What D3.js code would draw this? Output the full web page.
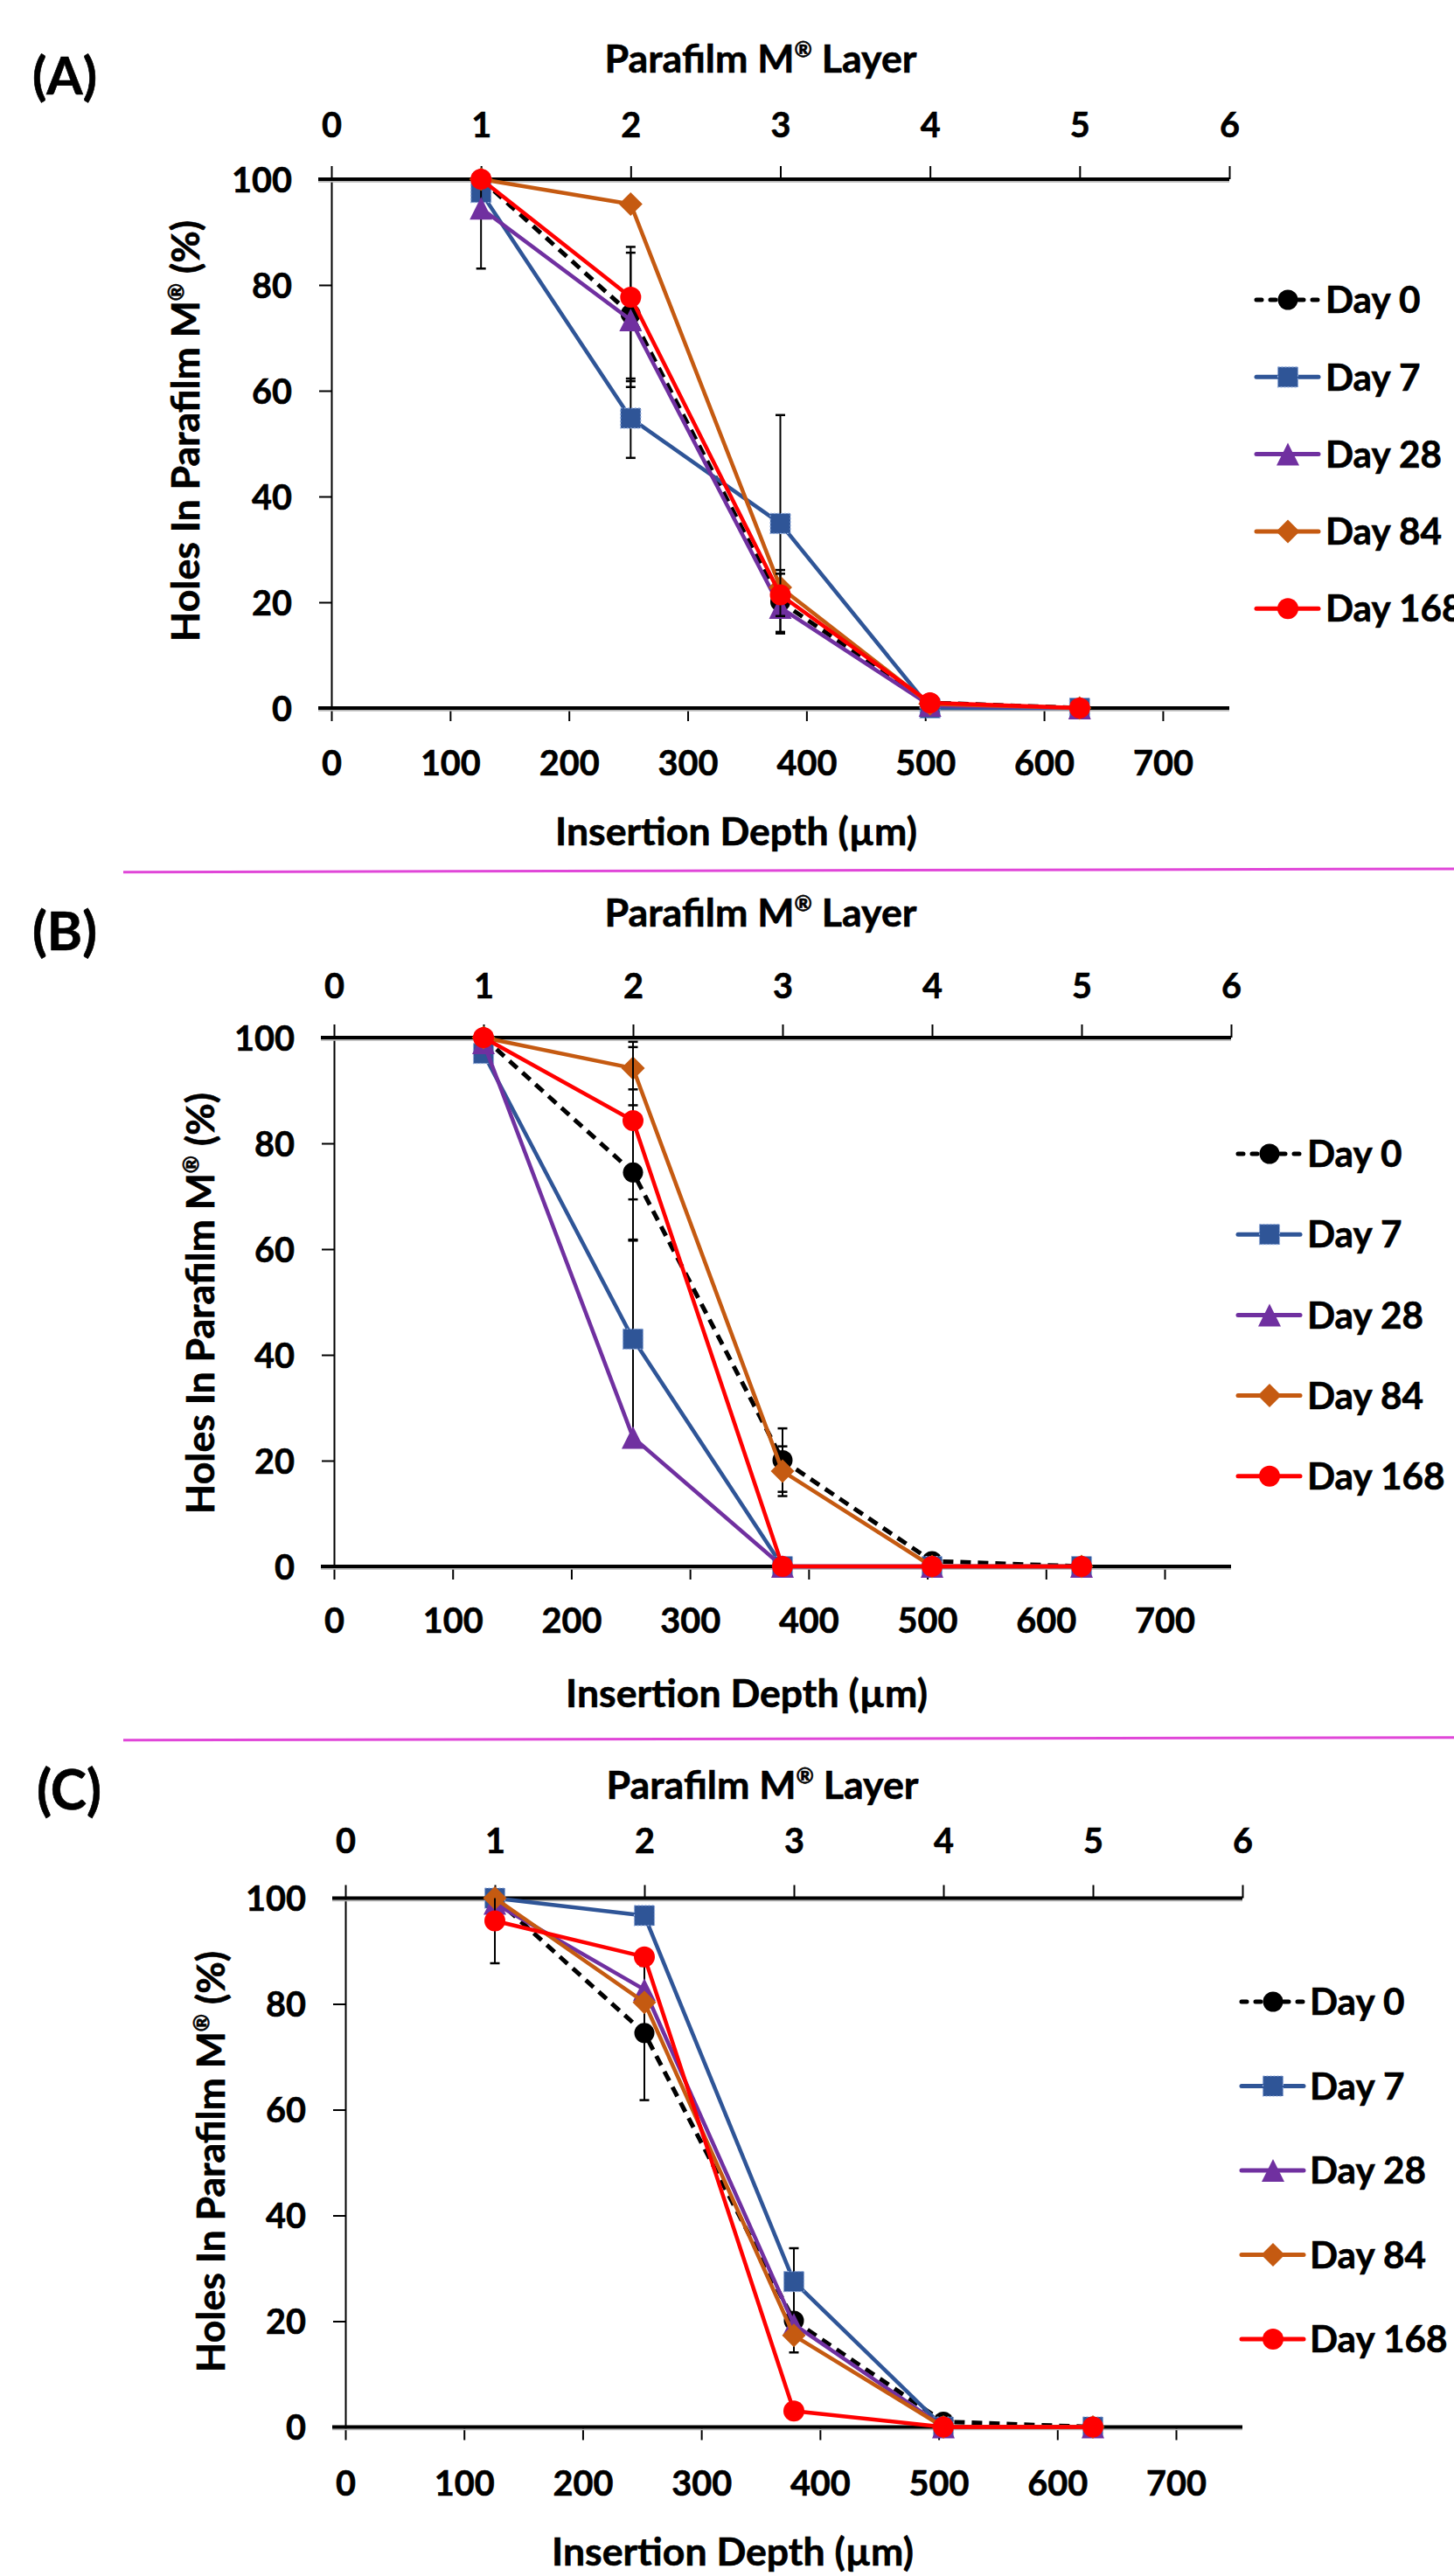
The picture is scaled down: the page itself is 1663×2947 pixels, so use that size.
<!DOCTYPE html>
<html>
<head>
<meta charset="utf-8">
<script src="https://cdn.jsdelivr.net/npm/d3@7.9.0/dist/d3.min.js"></script>
<style>
  body { margin: 0; background: #fff; }
  svg { display: block; }
  text { font-family: Lato, sans-serif; font-weight: 700; fill: #000; stroke: #000; stroke-width: 0.6px; }
</style>
</head>
<body>
<svg id="chart" width="1663" height="2947"></svg>
<script>
// ---- data ----
const days = ["Day 0", "Day 7", "Day 28", "Day 84", "Day 168"];
const layers = [1, 2, 3, 4, 5];
const layerThickness = 126; // µm per Parafilm layer
const layerTicks = [0, 1, 2, 3, 4, 5, 6];
const depthTicks = [0, 100, 200, 300, 400, 500, 600, 700];
const holeTicks = [0, 20, 40, 60, 80, 100];
const panelLabels = ["(A)", "(B)", "(C)"];

// holes in Parafilm (%) per day, layers 1..5
const holesA = [
  [100, 74.5, 20.1, 1.0, 0],
  [97.5, 54.8, 34.9, 0, 0],
  [94.5, 73.4, 19.0, 0.5, 0],
  [100, 95.3, 22.8, 0.8, 0],
  [100, 77.7, 21.4, 1.0, 0]
];
const errA = [
  [0, 12.7, 6, 0, 0],
  [0, 7.5, 20.5, 0, 0],
  [11.4, 12.7, 0, 0, 0],
  [0, 0, 0, 0, 0],
  [0, 0, 4, 0, 0]
];
const holesB = [
  [100, 74.5, 20.1, 1.0, 0],
  [97.0, 43.0, 0, 0, 0],
  [99.0, 24.4, 0, 0, 0],
  [100, 94.2, 18.0, 0, 0],
  [100, 84.3, 0, 0, 0]
];
const errB = [
  [0, 12.7, 6, 0, 0],
  [0, 18.6, 0, 0, 0],
  [0, 0, 0, 0, 0],
  [0, 4, 4.7, 0, 0],
  [0, 14.9, 0, 0, 0]
];
const holesC = [
  [100, 74.5, 20.1, 1.0, 0],
  [100, 96.7, 27.5, 0, 0],
  [99.0, 82.7, 19.4, 0, 0],
  [100, 80.3, 17.3, 0, 0],
  [95.7, 88.9, 3.0, 0, 0]
];
const errC = [
  [0, 12.7, 6, 0, 0],
  [0, 1.6, 6.3, 0, 0],
  [0, 0, 0, 0, 0],
  [0, 0, 0, 0, 0],
  [8, 0, 0, 0, 0]
];

// ---- styles ----
const colors = ["#000000", "#2F5597", "#7030A0", "#C55A11", "#FF0000"];
const dashes = ["12,8", null, null, null, null];

const triangle = { draw(ctx, size) { const r = Math.sqrt(size) / 2; ctx.moveTo(0, -r); ctx.lineTo(r, r); ctx.lineTo(-r, r); ctx.closePath(); } };
const diamond = { draw(ctx, size) { const r = Math.sqrt(size) / 2; ctx.moveTo(0, -r); ctx.lineTo(r, 0); ctx.lineTo(0, r); ctx.lineTo(-r, 0); ctx.closePath(); } };
const shapes = [
  d3.symbol(d3.symbolCircle, Math.PI * 11.5 * 11.5),
  d3.symbol(d3.symbolSquare, 23 * 23),
  d3.symbol(triangle, 26 * 26),
  d3.symbol(diamond, 27 * 27),
  d3.symbol(d3.symbolCircle, Math.PI * 12 * 12)
];

// ---- layout ----
const layouts = [
  { left: 379, right: 1406, top: 205, bottom: 810, labelX: 37, labelY: 108, topTitleX: 870, topTitleY: 83, topTickY: 157,
    bottomTickY: 887, bottomTitleX: 842, bottomTitleY: 967, yTitleX: 215, yTitleY: 493,
    legY: 343, legDy: 88.3, legX1: 1437, legX2: 1508, legXm: 1473, legXt: 1516 },
  { left: 382, right: 1408, top: 1187, bottom: 1792, labelX: 37, labelY: 1087, topTitleX: 870, topTitleY: 1060, topTickY: 1142,
    bottomTickY: 1868, bottomTitleX: 854, bottomTitleY: 1953, yTitleX: 232, yTitleY: 1491,
    legY: 1320, legDy: 92.2, legX1: 1416, legX2: 1487, legXm: 1452, legXt: 1495 },
  { left: 395, right: 1421, top: 2171.5, bottom: 2776.5, labelX: 42, labelY: 2070, topTitleX: 872, topTitleY: 2058, topTickY: 2120,
    bottomTickY: 2855, bottomTitleX: 838, bottomTitleY: 2935, yTitleX: 244, yTitleY: 2473,
    legY: 2290, legDy: 96.5, legX1: 1420, legX2: 1491, legXm: 1456, legXt: 1498 }
];

const svg = d3.select("#chart");

// size a text so its width matches the width measured in the original figure
function fitWidth(sel, target) {
  const fs = parseFloat(sel.attr("font-size"));
  const w = sel.node().getComputedTextLength();
  sel.attr("font-size", (fs * target / w).toFixed(2));
  return fs * target / w;
}

// work out font sizes once from probe texts
const probe = svg.append("g");
const tickSize = fitWidth(probe.append("text").attr("font-size", 40).text("100"), 69);
const legendSize = fitWidth(probe.append("text").attr("font-size", 40).text("Day 28"), 133);
probe.remove();

function drawPanel(idx, holes, errs) {
  const p = layouts[idx];
  const xLayer = d3.scaleLinear().domain([0, 6]).range([p.left, p.right]);
  const xDepth = d3.scaleLinear().domain([0, 6 * layerThickness]).range([p.left, p.right]);
  const y = d3.scaleLinear().domain([0, 100]).range([p.bottom, p.top]);
  const g = svg.append("g");

  // left axis
  const left = g.append("g").attr("transform", `translate(${p.left},0)`)
    .call(d3.axisLeft(y).tickValues(holeTicks).tickSize(14).tickPadding(31));
  left.select(".domain").attr("stroke-width", 2);
  left.selectAll(".tick line").attr("stroke-width", 2);
  left.selectAll("text").attr("font-size", tickSize).attr("font-family", "Lato").attr("dy", "0.36em");

  // top axis (layers)
  const top = g.append("g").attr("transform", `translate(0,${p.top})`)
    .call(d3.axisTop(xLayer).tickValues(layerTicks).tickFormat(d3.format("d")).tickSize(15));
  top.select(".domain").remove();
  top.selectAll(".tick line").attr("stroke-width", 2);
  top.selectAll("text").attr("font-size", tickSize).attr("font-family", "Lato")
    .attr("y", p.topTickY - p.top).attr("dy", 0);

  // bottom axis (depth)
  const bot = g.append("g").attr("transform", `translate(0,${p.bottom})`)
    .call(d3.axisBottom(xDepth).tickValues(depthTicks).tickFormat(d3.format("d")).tickSize(15));
  bot.select(".domain").remove();
  bot.selectAll(".tick line").attr("stroke-width", 2);
  bot.selectAll("text").attr("font-size", tickSize).attr("font-family", "Lato")
    .attr("y", p.bottomTickY - p.bottom).attr("dy", 0);

  // heavy horizontal axis lines with soft shadow
  [p.top, p.bottom].forEach(yy => {
    g.append("line").attr("x1", p.left - 15).attr("x2", p.right).attr("y1", yy + 2.8).attr("y2", yy + 2.8)
      .attr("stroke", "#b5b5b5").attr("stroke-width", 2);
    g.append("line").attr("x1", p.left - 15).attr("x2", p.right).attr("y1", yy).attr("y2", yy)
      .attr("stroke", "#000").attr("stroke-width", 4);
  });

  // titles
  fitWidth(g.append("text").attr("x", p.labelX).attr("y", p.labelY).attr("font-size", 57).text(panelLabels[idx]), 74);

  const tt = g.append("text").attr("x", p.topTitleX).attr("y", p.topTitleY).attr("font-size", 43).attr("text-anchor", "middle");
  tt.append("tspan").text("Parafilm M");
  tt.append("tspan").attr("font-size", "0.55em").attr("dy", "-0.72em").text("®");
  tt.append("tspan").attr("dy", "0.396em").text(" Layer");
  fitWidth(tt, 357);

  fitWidth(g.append("text").attr("x", p.bottomTitleX).attr("y", p.bottomTitleY).attr("font-size", 43)
    .attr("text-anchor", "middle").text("Insertion Depth (µm)"), 414);

  const yt = g.append("text").attr("transform", `translate(${p.yTitleX + 13},${p.yTitleY}) rotate(-90)`)
    .attr("font-size", 39).attr("text-anchor", "middle").attr("font-family", "'Open Sans', sans-serif");
  yt.append("tspan").text("Holes In Parafilm M");
  yt.append("tspan").attr("font-size", "0.55em").attr("dy", "-0.72em").text("®");
  yt.append("tspan").attr("dy", "0.396em").text(" (%)");
  fitWidth(yt, 482);

  // clip for error bars
  const clipId = "clip" + idx;
  svg.append("clipPath").attr("id", clipId).append("rect")
    .attr("x", p.left).attr("y", p.top).attr("width", p.right - p.left).attr("height", p.bottom - p.top + 2);

  const line = d3.line().x((d, i) => xLayer(layers[i])).y(d => y(d));

  holes.forEach((vals, s) => {
    g.append("path").datum(vals).attr("d", line).attr("fill", "none")
      .attr("stroke", colors[s]).attr("stroke-width", s === 0 ? 5 : 4.5)
      .attr("stroke-dasharray", dashes[s]).attr("stroke-linejoin", "round");

    const eb = g.append("g").attr("clip-path", `url(#${clipId})`);
    vals.forEach((v, i) => {
      const e = errs[s][i];
      if (!e) return;
      const cx = xLayer(layers[i]);
      eb.append("line").attr("x1", cx).attr("x2", cx).attr("y1", y(v - e)).attr("y2", y(v + e))
        .attr("stroke", "#000").attr("stroke-width", 2);
      [v - e, v + e].forEach(ev => {
        eb.append("line").attr("x1", cx - 5.5).attr("x2", cx + 5.5).attr("y1", y(ev)).attr("y2", y(ev))
          .attr("stroke", "#000").attr("stroke-width", 2.5);
      });
    });

    g.selectAll(null).data(vals).enter().append("path")
      .attr("d", shapes[s])
      .attr("transform", (d, i) => `translate(${xLayer(layers[i])},${y(d)})`)
      .attr("fill", colors[s])
      .attr("stroke", s === 1 ? "#8FAADC" : "none")
      .attr("stroke-width", 1.2)
      .attr("stroke-dasharray", s === 1 ? "2,2" : null);
  });

  // legend
  days.forEach((name, s) => {
    const ly = p.legY + s * p.legDy;
    const lg = g.append("g");
    lg.append("line").attr("x1", p.legX1).attr("x2", p.legX2).attr("y1", ly).attr("y2", ly)
      .attr("stroke", colors[s]).attr("stroke-width", 5).attr("stroke-linecap", "round")
      .attr("stroke-dasharray", s === 0 ? "6,10" : null);
    lg.append("path").attr("d", shapes[s]).attr("transform", `translate(${p.legXm},${ly})`)
      .attr("fill", colors[s])
      .attr("stroke", s === 1 ? "#8FAADC" : "none").attr("stroke-width", 1.2)
      .attr("stroke-dasharray", s === 1 ? "2,2" : null);
    lg.append("text").attr("x", p.legXt).attr("y", ly).attr("dy", "0.36em").attr("font-size", legendSize).text(name);
  });
}

drawPanel(0, holesA, errA);
drawPanel(1, holesB, errB);
drawPanel(2, holesC, errC);

// separators between panels
const separators = [[997.7, 994], [1990.7, 1987.7]];
separators.forEach(([y1, y2]) => {
  svg.append("line").attr("x1", 141).attr("x2", 1663).attr("y1", y1).attr("y2", y2)
    .attr("stroke", "#E046D8").attr("stroke-width", 3);
});
</script>
</body>
</html>
